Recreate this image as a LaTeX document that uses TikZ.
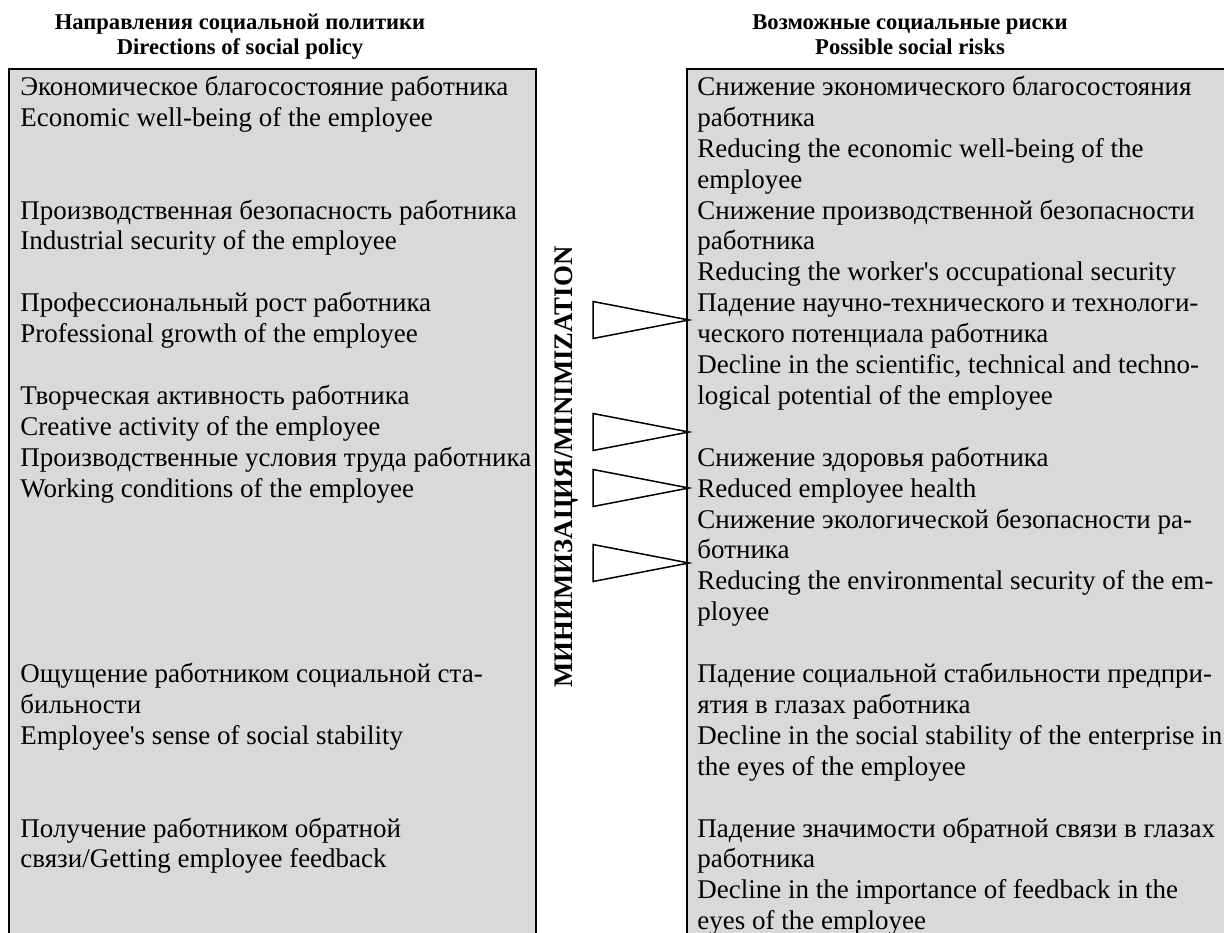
\documentclass[tikz,border=0pt]{standalone}
\usepackage{fontspec}
\setmainfont{Liberation Serif}[Ligatures=TeXOff]

\begin{document}
\begin{tikzpicture}[x=0.5pt, y=-0.5pt]
  \tikzstyle{panel}=[draw=black, line width=1pt, fill=black!15]
  \tikzstyle{item}=[anchor=north west, inner sep=0pt, align=left,
    font=\fontsize{13.5}{15.45}\selectfont]
  \tikzstyle{head}=[anchor=north, inner sep=0pt, align=center,
    font=\fontsize{11.3}{12.4}\selectfont\bfseries]
  \tikzstyle{tri}=[draw=black, line width=0.75pt, line join=miter]

  \useasboundingbox (0, 0) rectangle (1224, 932);

  % the two columns
  \draw[panel] (9, 69) rectangle (536, 945);
  \draw[panel] (687, 69) rectangle (1240, 945);

  \path
    (240, 12) node[head] (hleft) {\strut Направления социальной политики\\Directions of social policy}
    (910, 12) node[head] (hright) {\strut Возможные социальные риски\\Possible social risks};

  % directions of social policy
  \path
    (20, 73.4) node[item] (p1) {\strut Экономическое благосостояние работника\\Economic well-being of the employee}
    (20, 197.0) node[item] (p2) {\strut Производственная безопасность работника\\Industrial security of the employee}
    (20, 289.7) node[item] (p3) {\strut Профессиональный рост работника\\Professional growth of the employee}
    (20, 382.4) node[item] (p4) {\strut Творческая активность работника\\Creative activity of the employee}
    (20, 444.2) node[item] (p5) {\strut Производственные условия труда работника\\Working conditions of the employee}
    (20, 660.5) node[item] (p6) {\strut Ощущение работником социальной ста-\\бильности\\Employee's sense of social stability}
    (20, 815.0) node[item] (p7) {\strut Получение работником обратной\\связи/Getting employee feedback};

  % possible social risks
  \path
    (697, 73.4) node[item] (r1) {\strut Снижение экономического благосостояния\\работника\\Reducing the economic well-being of the\\employee}
    (697, 197.0) node[item] (r2) {\strut Снижение производственной безопасности\\работника\\Reducing the worker's occupational security}
    (697, 289.7) node[item] (r3) {\strut Падение научно-технического и технологи-\\ческого потенциала работника\\Decline in the scientific, technical and techno-\\logical potential of the employee}
    (697, 444.2) node[item] (r4) {\strut Снижение здоровья работника\\Reduced employee health}
    (697, 506.0) node[item] (r5) {\strut Снижение экологической безопасности ра-\\ботника\\Reducing the environmental security of the em-\\ployee}
    (697, 660.5) node[item] (r6) {\strut Падение социальной стабильности предпри-\\ятия в глазах работника\\Decline in the social stability of the enterprise in\\the eyes of the employee}
    (697, 815.0) node[item] (r7) {\strut Падение значимости обратной связи в глазах\\работника\\Decline in the importance of feedback in the\\eyes of the employee};

  \node[rotate=90, inner sep=0pt, font=\fontsize{13.4}{14}\selectfont\bfseries]
    (minim) at (566, 467) {МИНИМИЗАЦИЯ/MINIMIZATION};

  \foreach \y in {320,432,488,563}
    \draw[tri] (689, \y) coordinate (t\y) ++(-96, -18.5) -- (t\y) -- ++(-96, 18.5) -- cycle;

\end{tikzpicture}
\end{document}
